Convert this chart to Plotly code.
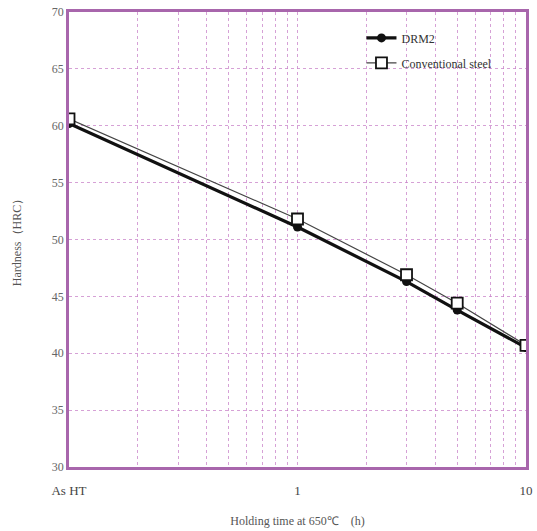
import plotly.graph_objects as go

times = [0.1, 1, 3, 5, 10]          # 0.1 represents "As HT"
drm2 = [60.2, 51.1, 46.3, 43.8, 40.5]
conventional = [60.6, 51.8, 46.9, 44.4, 40.7]

major_ticks = [0.1, 1, 10]
major_labels = ["As HT", "1", "10"]
minor_ticks = [m * d for d in (0.1, 1) for m in range(2, 10)]
y_ticks = [30, 35, 40, 45, 50, 55, 60, 65, 70]

tickvals = major_ticks + minor_ticks
ticktext = major_labels + [""] * len(minor_ticks)

font_fam = "Liberation Serif, Times New Roman, serif"
grid_c = "rgba(200,130,200,0.75)"
frame_c = "#a866ac"

fig = go.Figure()
fig.add_trace(go.Scatter(
    x=times, y=drm2, name="DRM2", mode="lines+markers", legendgroup="a",
    line=dict(color="#111111", width=3.2),
    marker=dict(symbol="circle", size=9, color="#111111"),
))
fig.add_trace(go.Scatter(
    x=times, y=conventional, name="Conventional steel", mode="lines+markers",
    legendgroup="b",
    line=dict(color="#444444", width=1.2),
    marker=dict(symbol="square", size=11, color="white",
                line=dict(color="#111111", width=1.8)),
))

fig.update_layout(
    width=537, height=531,
    margin=dict(l=69, r=4, t=12, b=63),
    paper_bgcolor="white", plot_bgcolor="white",
    font=dict(family=font_fam, color="#555555", size=12),
    showlegend=True,
    legend=dict(x=0.64, y=0.975, xanchor="left", yanchor="top",
                bgcolor="rgba(255,255,255,0)", borderwidth=0,
                font=dict(size=12, color="#333333"),
                itemwidth=30, tracegroupgap=6),
)
fig.update_xaxes(
    type="log", range=[-1, 1],
    tickmode="array", tickvals=tickvals, ticktext=ticktext,
    showgrid=True, gridcolor=grid_c, gridwidth=1, griddash="dot",
    showline=True, linecolor=frame_c, linewidth=2.5, mirror=True,
    ticks="", zeroline=False, ticklabelstandoff=10,
    tickfont=dict(size=13, color="#444444"),
    title=dict(text="Holding time at 650℃　(h)", font=dict(size=12, color="#555555"), standoff=20),
)
fig.update_yaxes(
    range=[30, 70], tickvals=y_ticks,
    showgrid=True, gridcolor=grid_c, gridwidth=1, griddash="dot",
    showline=True, linecolor=frame_c, linewidth=2.5, mirror=True,
    ticks="", zeroline=False,
    tickfont=dict(size=12, color="#666666"),
    title=dict(text="Hardness（HRC）", font=dict(size=12, color="#555555"), standoff=28),
)

fig.write_html("out.html")
